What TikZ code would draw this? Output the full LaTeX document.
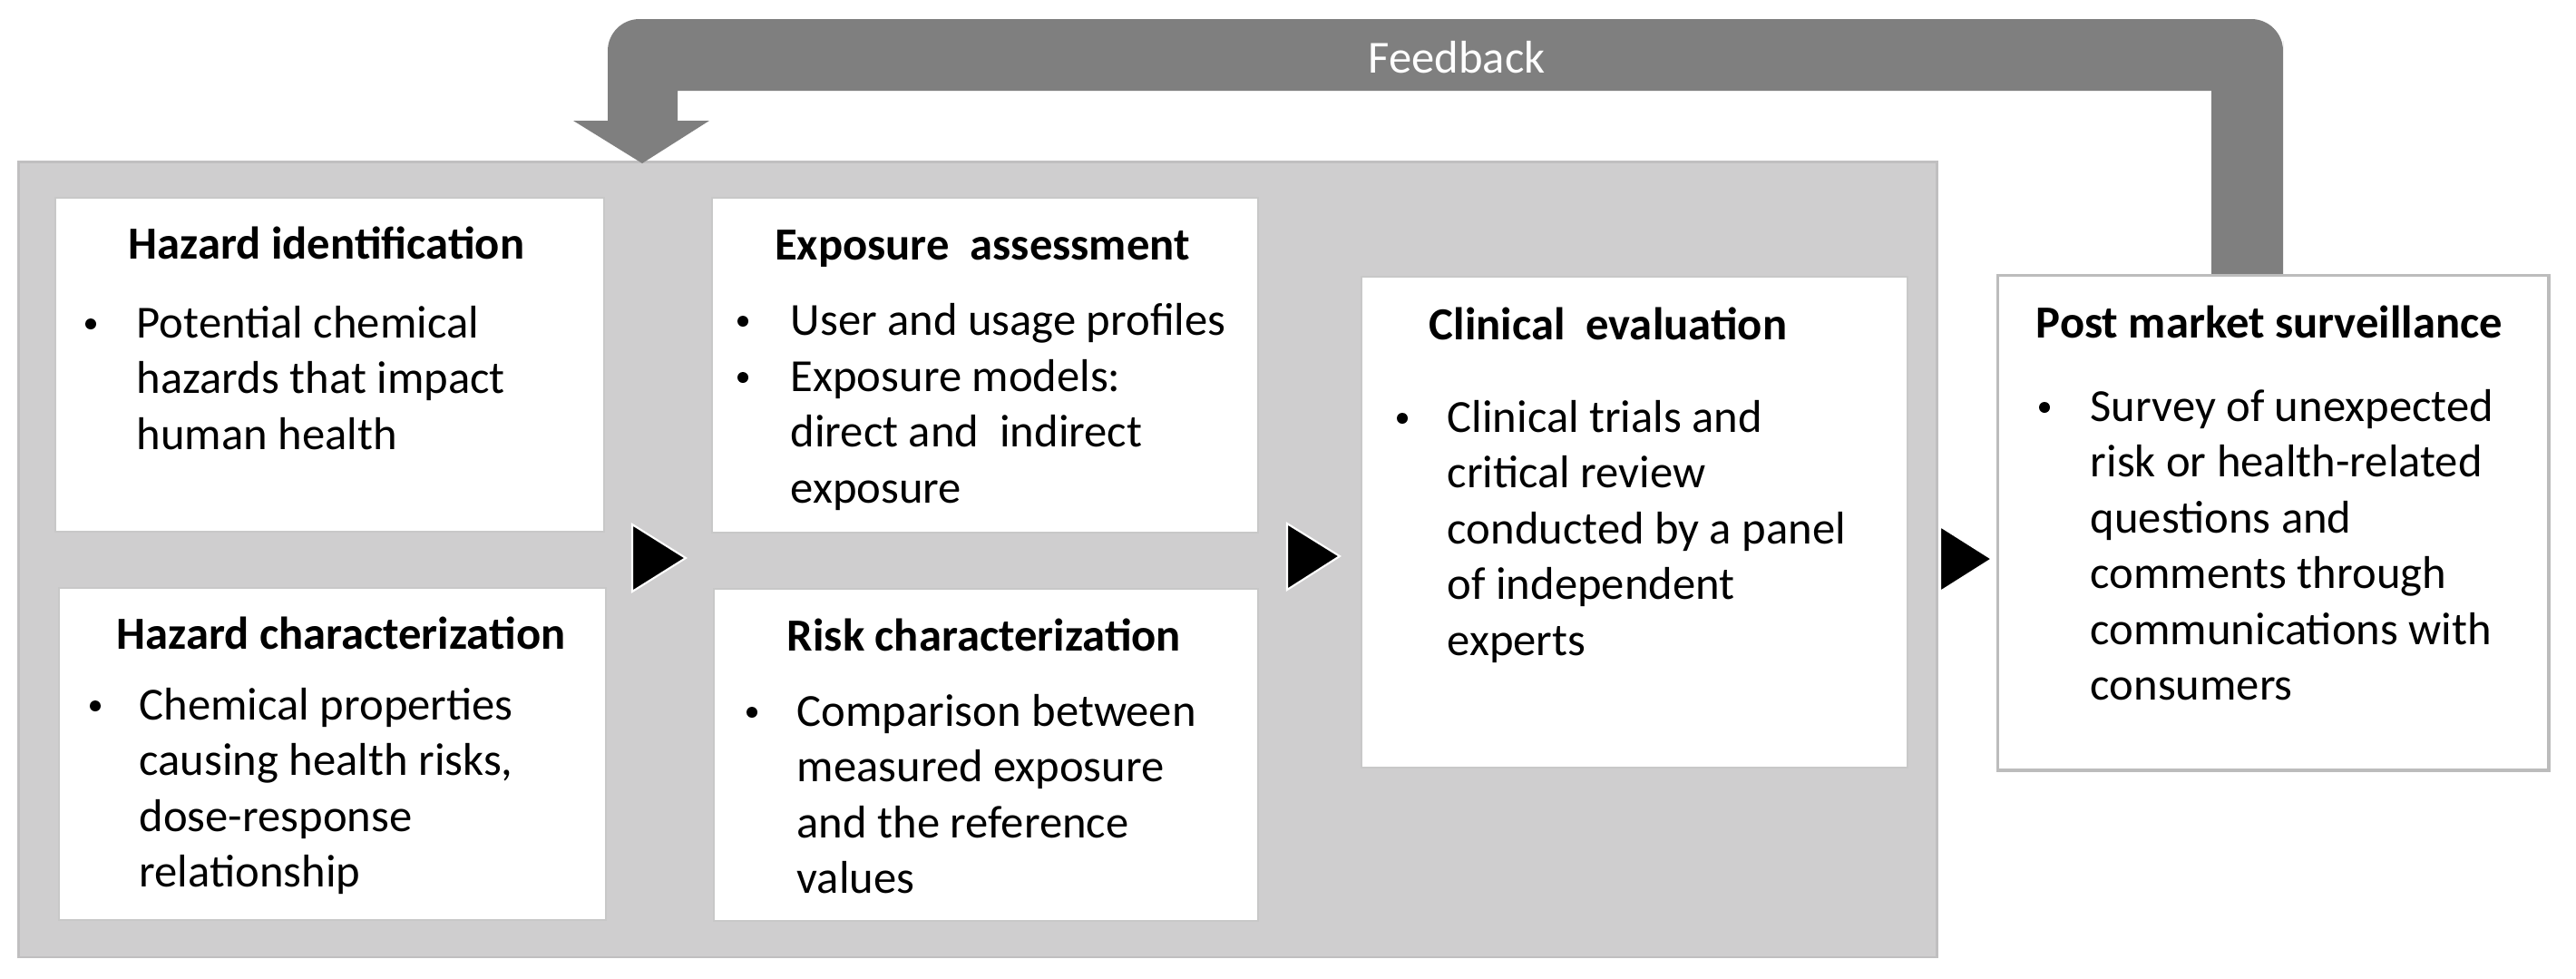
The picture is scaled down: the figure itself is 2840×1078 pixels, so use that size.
\documentclass[tikz,border=0pt]{standalone}
\usepackage{fontspec}
\setmainfont{Carlito}
\definecolor{bggray}{RGB}{207,206,207}
\definecolor{bgedge}{RGB}{192,191,192}
\definecolor{fbgray}{RGB}{127,127,127}
\definecolor{boxedge}{RGB}{200,200,200}
\definecolor{pmsedge}{RGB}{188,188,188}
\newcommand{\fsz}{\fontsize{14.4pt}{17.5pt}\selectfont}
\newcommand{\blines}[1]{\begin{tabular}[t]{@{}l@{}}#1\end{tabular}}
\begin{document}
\begin{tikzpicture}[x=0.01cm, y=-0.01cm,
  box/.style={draw=boxedge, fill=white, line width=0.6pt, inner sep=0, anchor=north west},
  ttl/.style={font=\fsz\bfseries, anchor=base, inner sep=0},
  txt/.style={font=\fsz, anchor=base west, inner sep=0},
  bul/.style={circle, fill=black, inner sep=0, minimum size=0.12cm},
  tri/.style={fill=black, draw=white, line width=0.6pt}]
\useasboundingbox (0,0) rectangle (2840,1078);

% background panel
\node[fill=bggray, draw=bgedge, line width=0.8pt, inner sep=0, anchor=north west,
      minimum width=21.14cm, minimum height=8.76cm] (bg) at (19,177) {};

% feedback arrow
\fill[fbgray] (670,133) -- (670,80) [rounded corners=0.35cm] -- (670,21) -- (2517,21) -- (2517,80)
  [sharp corners] -- (2517,302) -- (2438,302) -- (2438,100) -- (747,100) -- (747,133)
  -- (782,133) -- (708,180) -- (632,133) -- cycle;
\node[font=\fsz, text=white, anchor=base, inner sep=0] (fb) at (1606,80) {Feedback};

% boxes
\node[box, minimum width=6.05cm, minimum height=3.68cm] (hi) at (60,217) {};
\node[box, minimum width=6.03cm, minimum height=3.66cm] (hc) at (64,647) {};
\node[box, minimum width=6.02cm, minimum height=3.69cm] (ea) at (784,217) {};
\node[box, minimum width=6.00cm, minimum height=3.66cm] (rc) at (786,648) {};
\node[box, minimum width=6.02cm, minimum height=5.41cm] (ce) at (1500,304) {};
\node[box, draw=pmsedge, line width=0.9pt, minimum width=6.07cm, minimum height=5.45cm] (pms) at (2201,302) {};

% triangles
\fill[tri] (697,578) -- (756,615) -- (697,652) -- cycle;
\fill[tri] (1419,577) -- (1477,613) -- (1419,650) -- cycle;
\fill[tri] (2139,580) -- (2196,616) -- (2139,652) -- cycle;

% Hazard identification
\node[ttl] (hit) at (360,285) {Hazard identification};
\node[bul] (hib) at (100,357) {};
\node[txt] (hix) at (150,372) {\blines{Potential chemical\\hazards that impact\\human health}};

% Hazard characterization
\node[ttl] (hct) at (376,715) {Hazard characterization};
\node[bul] (hcb) at (105,778) {};
\node[txt] (hcx) at (153,793) {\blines{Chemical properties\\causing health risks,\\dose-response\\relationship}};

% Exposure assessment
\node[ttl] (eat) at (1083,286) {Exposure\ \ assessment};
\node[bul] (eab1) at (819,354) {};
\node[txt] (eax1) at (871,369) {User and usage profiles};
\node[bul] (eab2) at (819,416) {};
\node[txt] (eax2) at (871,431) {\blines{Exposure models:\\direct and\ \ indirect\\exposure}};

% Risk characterization
\node[ttl] (rct) at (1085,717) {Risk characterization};
\node[bul] (rcb) at (829,785) {};
\node[txt] (rcx) at (878,800) {\blines{Comparison between\\measured exposure\\and the reference\\values}};

% Clinical evaluation
\node[ttl] (cet) at (1773,374) {Clinical\ \ evaluation};
\node[bul] (ceb) at (1546,461) {};
\node[txt] (cex) at (1595,476) {\blines{Clinical trials and\\critical review\\conducted by a panel\\of independent\\experts}};

% Post market surveillance
\node[ttl] (pmt) at (2502,372) {Post market surveillance};
\node[bul] (pmb) at (2254,449) {};
\node[txt] (pmx) at (2304,464) {\blines{Survey of unexpected\\risk or health-related\\questions and\\comments through\\communications with\\consumers}};
\end{tikzpicture}
\end{document}
